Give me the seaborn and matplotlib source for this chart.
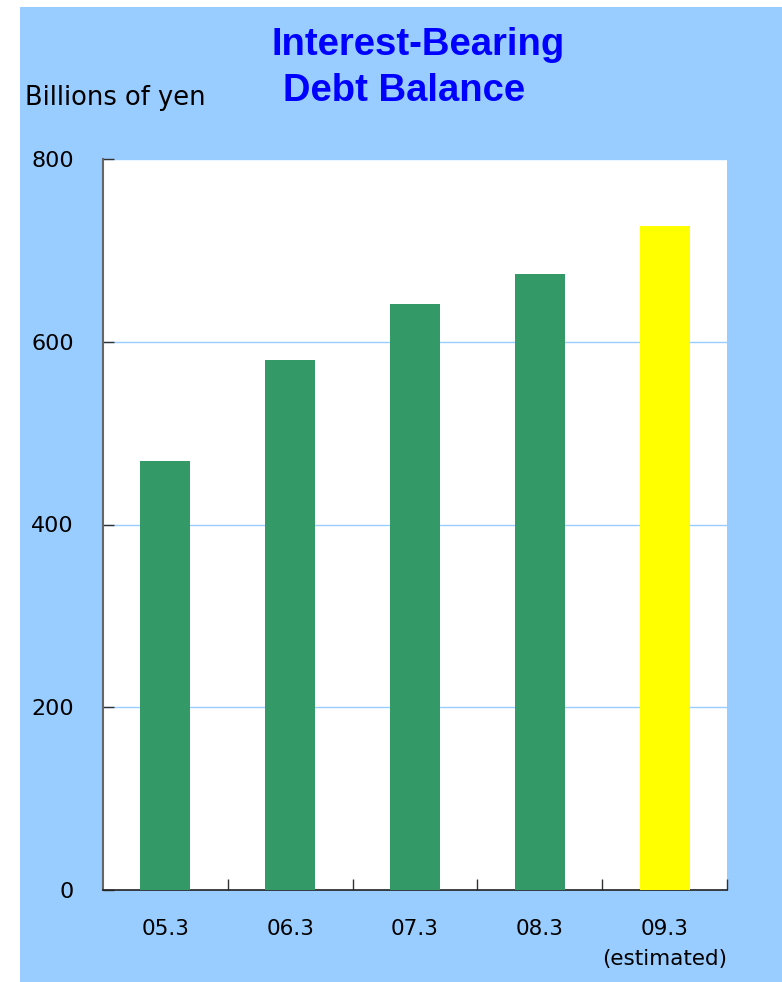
import matplotlib
matplotlib.use("Agg")
import matplotlib.pyplot as plt
import seaborn as sns
import pandas as pd
from matplotlib.patches import Rectangle

# Fiscal year-end labels and interest-bearing debt (billions of yen)
periods = ["05.3", "06.3", "07.3", "08.3", "09.3\n(estimated)"]
debt = [470, 580, 641, 674, 727]
bar_colors = ["#339966", "#339966", "#339966", "#339966", "#FFFF00"]
y_ticks = [0, 200, 400, 600, 800]

sns.set_theme(style="white")
plt.rcParams["font.family"] = ["DejaVu Sans"]

W, H = 782, 982
fig = plt.figure(figsize=(W / 100, H / 100), dpi=100, facecolor="white")

# light blue panel behind the chart
fig.patches.append(Rectangle((20 / W, 0), 1 - 20 / W, (H - 7) / H,
                             transform=fig.transFigure, facecolor="#99CCFF",
                             edgecolor="none", zorder=-10))

ax = fig.add_axes([103 / W, (H - 890) / H, (727 - 103) / W, (890 - 159) / H])
ax.set_facecolor("white")

df = pd.DataFrame({"period": periods, "debt": debt})
sns.barplot(data=df, x="period", y="debt", hue="period", palette=bar_colors,
            width=0.4, legend=False, saturation=1, ax=ax, zorder=3,
            linewidth=0)

ax.set_ylim(0, 800)
ax.set_xlim(-0.5, len(periods) - 0.5)
ax.set_yticks(y_ticks)
ax.yaxis.grid(True, color="#99CCFF", linewidth=1.0, zorder=0)
ax.set_axisbelow(True)

for side in ("top", "right"):
    ax.spines[side].set_visible(False)
ax.spines["left"].set_color("#666666")
ax.spines["left"].set_linewidth(1.5)
ax.spines["bottom"].set_color("#222222")
ax.spines["bottom"].set_linewidth(1.2)

ax.tick_params(axis="y", direction="in", length=8, width=1, color="#333333",
               pad=21, labelsize=16, labelcolor="black", left=True)
ax.set_xticks(range(len(periods)))
ax.set_xticklabels(periods, linespacing=1.6)
ax.tick_params(axis="x", which="major", length=0, pad=21, labelsize=15.5,
               labelcolor="black")
ax.set_xticks([i + 0.5 for i in range(len(periods))], minor=True)
ax.tick_params(axis="x", which="minor", direction="in", length=8, width=1,
               color="#333333", bottom=True)
ax.set_xlabel("")
ax.set_ylabel("")

fig.text(25 / W, 1 - 98 / H, "Billions of yen", fontsize=18.5, color="black",
         ha="left", va="center")

title_font = dict(fontsize=27.5, fontweight="bold", color="#0000FF",
                  family="Liberation Sans", ha="center", va="center")
fig.text(418 / W, 1 - 45 / H, "Interest-Bearing", **title_font)
fig.text(404 / W, 1 - 91 / H, "Debt Balance", **title_font)

fig.savefig("out.png", dpi=100, facecolor=fig.get_facecolor())
